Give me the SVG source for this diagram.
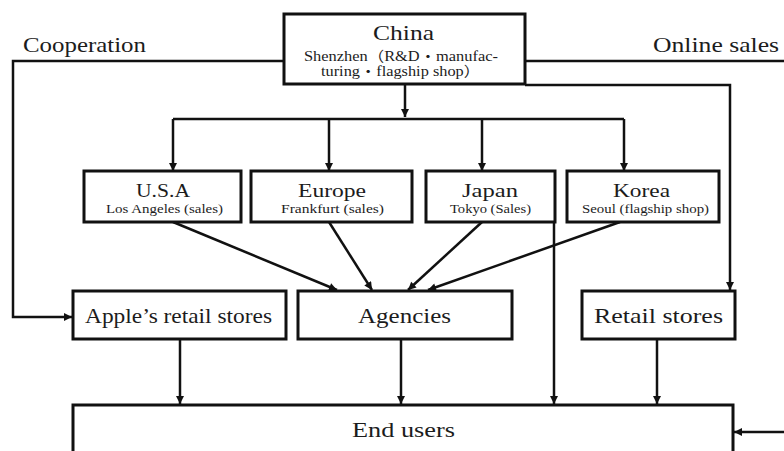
<svg xmlns="http://www.w3.org/2000/svg" width="784" height="451" viewBox="0 0 784 451">
  <style>
    .box { fill: #ffffff; stroke: #111111; stroke-width: 3; }
    .conn { fill: none; stroke: #111111; stroke-width: 2.5; }
    .arr { marker-end: url(#head); }
    text { font-family: "Liberation Serif", "Noto Sans CJK JP", serif; fill: #1c1c1c; }
    .big { font-size: 21px; }
    .title { font-size: 19px; }
    .sub { font-size: 12.5px; }
    .csub { font-size: 14px; }
  </style>
  <defs>
    <marker id="head" viewBox="0 0 10 10" refX="10" refY="5" markerWidth="9" markerHeight="8" markerUnits="userSpaceOnUse" orient="auto">
      <path d="M0,0 L10,5 L0,10 z" fill="#111111"/>
    </marker>
  </defs>
  <rect width="784" height="451" fill="#ffffff"/>

  <!-- connectors -->
  <g id="connectors">
    <!-- China down to the distribution bar -->
    <line class="conn arr" x1="405" y1="84" x2="405" y2="117"/>
    <line class="conn" x1="173" y1="119" x2="624" y2="119"/>
    <line class="conn arr" x1="173" y1="119" x2="173" y2="171"/>
    <line class="conn arr" x1="329" y1="119" x2="329" y2="171"/>
    <line class="conn arr" x1="482" y1="119" x2="482" y2="171"/>
    <line class="conn arr" x1="624" y1="119" x2="624" y2="171"/>
    <!-- country offices to agencies -->
    <line class="conn arr" x1="173" y1="222" x2="337" y2="290"/>
    <line class="conn arr" x1="329" y1="222" x2="372" y2="290"/>
    <line class="conn arr" x1="482" y1="222" x2="408" y2="290"/>
    <line class="conn arr" x1="620" y1="222" x2="428" y2="290"/>
    <!-- channels to end users -->
    <line class="conn arr" x1="180" y1="339" x2="180" y2="404"/>
    <line class="conn arr" x1="401" y1="339" x2="401" y2="404"/>
    <line class="conn arr" x1="554" y1="222" x2="554" y2="404"/>
    <line class="conn arr" x1="657" y1="339" x2="657" y2="404"/>
    <!-- cooperation route -->
    <polyline class="conn arr" points="284,61 13,61 13,317 72,317"/>
    <!-- online sales route -->
    <line class="conn" x1="525" y1="61" x2="784" y2="61"/>
    <polyline class="conn arr" points="525,85 730,85 730,290"/>
    <line class="conn arr" x1="784" y1="432" x2="734" y2="432"/>
    <text x="23" y="52" class="big" textLength="123" lengthAdjust="spacingAndGlyphs">Cooperation</text>
    <text x="653" y="52" class="big" textLength="126" lengthAdjust="spacingAndGlyphs">Online sales</text>
  </g>

  <g id="china">
    <rect class="box" x="284" y="14" width="241" height="70"/>
    <text x="373" y="40" font-size="22" textLength="61" lengthAdjust="spacingAndGlyphs">China</text>
    <text x="304" y="61" class="csub" textLength="194" lengthAdjust="spacingAndGlyphs">Shenzhen（R&amp;D・manufac-</text>
    <text x="321" y="76" class="csub" textLength="159" lengthAdjust="spacingAndGlyphs">turing・flagship shop）</text>
  </g>

  <g id="usa">
    <rect class="box" x="84" y="171" width="157" height="51"/>
    <text x="136" y="197" class="title" textLength="54" lengthAdjust="spacingAndGlyphs">U.S.A</text>
    <text x="106" y="213" class="sub" textLength="117" lengthAdjust="spacingAndGlyphs">Los Angeles (sales)</text>
  </g>

  <g id="europe">
    <rect class="box" x="251" y="171" width="161" height="51"/>
    <text x="298" y="197" class="title" textLength="68" lengthAdjust="spacingAndGlyphs">Europe</text>
    <text x="281" y="213" class="sub" textLength="103" lengthAdjust="spacingAndGlyphs">Frankfurt (sales)</text>
  </g>

  <g id="japan">
    <rect class="box" x="426" y="171" width="129" height="51"/>
    <text x="462" y="197" class="title" textLength="56" lengthAdjust="spacingAndGlyphs">Japan</text>
    <text x="450" y="213" class="sub" textLength="81" lengthAdjust="spacingAndGlyphs">Tokyo (Sales)</text>
  </g>

  <g id="korea">
    <rect class="box" x="567" y="171" width="152" height="51"/>
    <text x="613" y="197" class="title" textLength="57" lengthAdjust="spacingAndGlyphs">Korea</text>
    <text x="582" y="213" class="sub" textLength="127" lengthAdjust="spacingAndGlyphs">Seoul (flagship shop)</text>
  </g>

  <g id="apple-stores">
    <rect class="box" x="73" y="291" width="213" height="48"/>
    <text x="85" y="323" class="big" textLength="187" lengthAdjust="spacingAndGlyphs">Apple’s retail stores</text>
  </g>

  <g id="agencies">
    <rect class="box" x="298" y="291" width="214" height="48"/>
    <text x="358" y="323" class="big" textLength="93" lengthAdjust="spacingAndGlyphs">Agencies</text>
  </g>

  <g id="retail-stores">
    <rect class="box" x="582" y="291" width="153" height="48"/>
    <text x="594" y="323" class="big" textLength="129" lengthAdjust="spacingAndGlyphs">Retail stores</text>
  </g>

  <g id="end-users">
    <rect class="box" x="73" y="405" width="660" height="60"/>
    <text x="352" y="437" class="big" textLength="103" lengthAdjust="spacingAndGlyphs">End users</text>
  </g>
</svg>
